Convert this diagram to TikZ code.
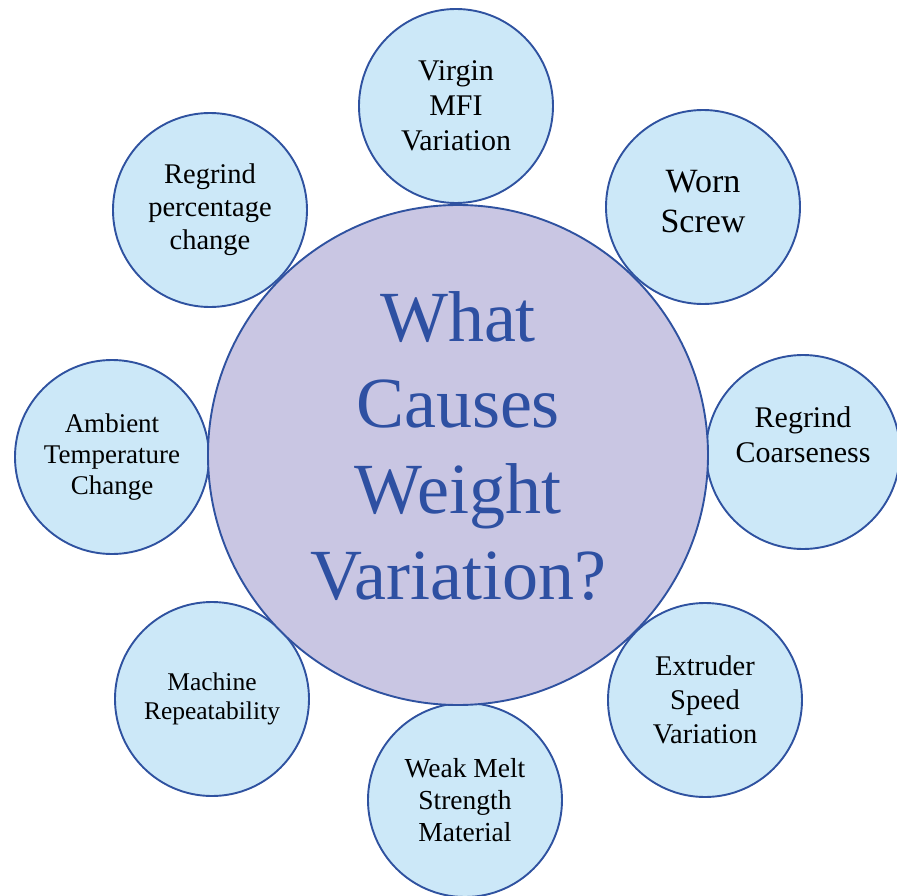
\documentclass[tikz,border=0pt]{standalone}
\usepackage{fontspec}
\setmainfont{Liberation Serif}
\usepackage{xcolor}
\usepackage{tikz}
\definecolor{rimblue}{HTML}{2F52A0}
\definecolor{causefill}{HTML}{CCE8F8}
\definecolor{hubfill}{HTML}{C9C6E3}
\definecolor{hubtext}{HTML}{2E50A2}

\begin{document}
\begin{tikzpicture}[
  x = 1pt, y = 1pt,
  cause/.style = {circle, draw=rimblue, fill=causefill, line width=1.9pt,
                  minimum size=194pt, inner sep=0pt, align=center},
  hub/.style   = {circle, draw=rimblue, fill=hubfill, line width=1.9pt,
                  minimum size=500pt, inner sep=0pt, align=center,
                  text=hubtext, font=\fontsize{72}{86}\selectfont},
]

\useasboundingbox (-458,-440) rectangle (439,455);

%% ── Causes (ring round the hub) ─────────────────────────────────────────
\node[cause, font=\fontsize{30}{35}\selectfont]                    (virgin)  at (-2,349)    {Virgin\\MFI\\Variation};
\node[cause, font=\fontsize{34}{40}\selectfont, text depth=12pt]   (screw)   at (245,248)   {Worn\\Screw};
\node[cause, font=\fontsize{30}{35}\selectfont, text depth=34pt]   (coarse)  at (345,3)     {Regrind\\Coarseness};
\node[cause, font=\fontsize{28.5}{34}\selectfont]                  (speed)   at (247,-245)  {Extruder\\Speed\\Variation};
\node[cause, font=\fontsize{27.5}{32}\selectfont]                  (melt)    at (7,-345)    {Weak Melt\\Strength\\Material};
\node[cause, font=\fontsize{25.5}{29}\selectfont]                  (repeat)  at (-246,-244) {Machine\\Repeatability};
\node[cause, font=\fontsize{27}{31}\selectfont]                    (ambient) at (-346,-2)   {Ambient\\Temperature\\Change};
\node[cause, font=\fontsize{28.5}{33}\selectfont]                  (regrind) at (-248,245)  {Regrind\\percentage\\change};

%% ── Hub ─────────────────────────────────────────────────────────────────
\node[hub, text depth=18pt] (hub) at (0,0) {What\\Causes\\Weight\\Variation?};

\end{tikzpicture}
\end{document}
